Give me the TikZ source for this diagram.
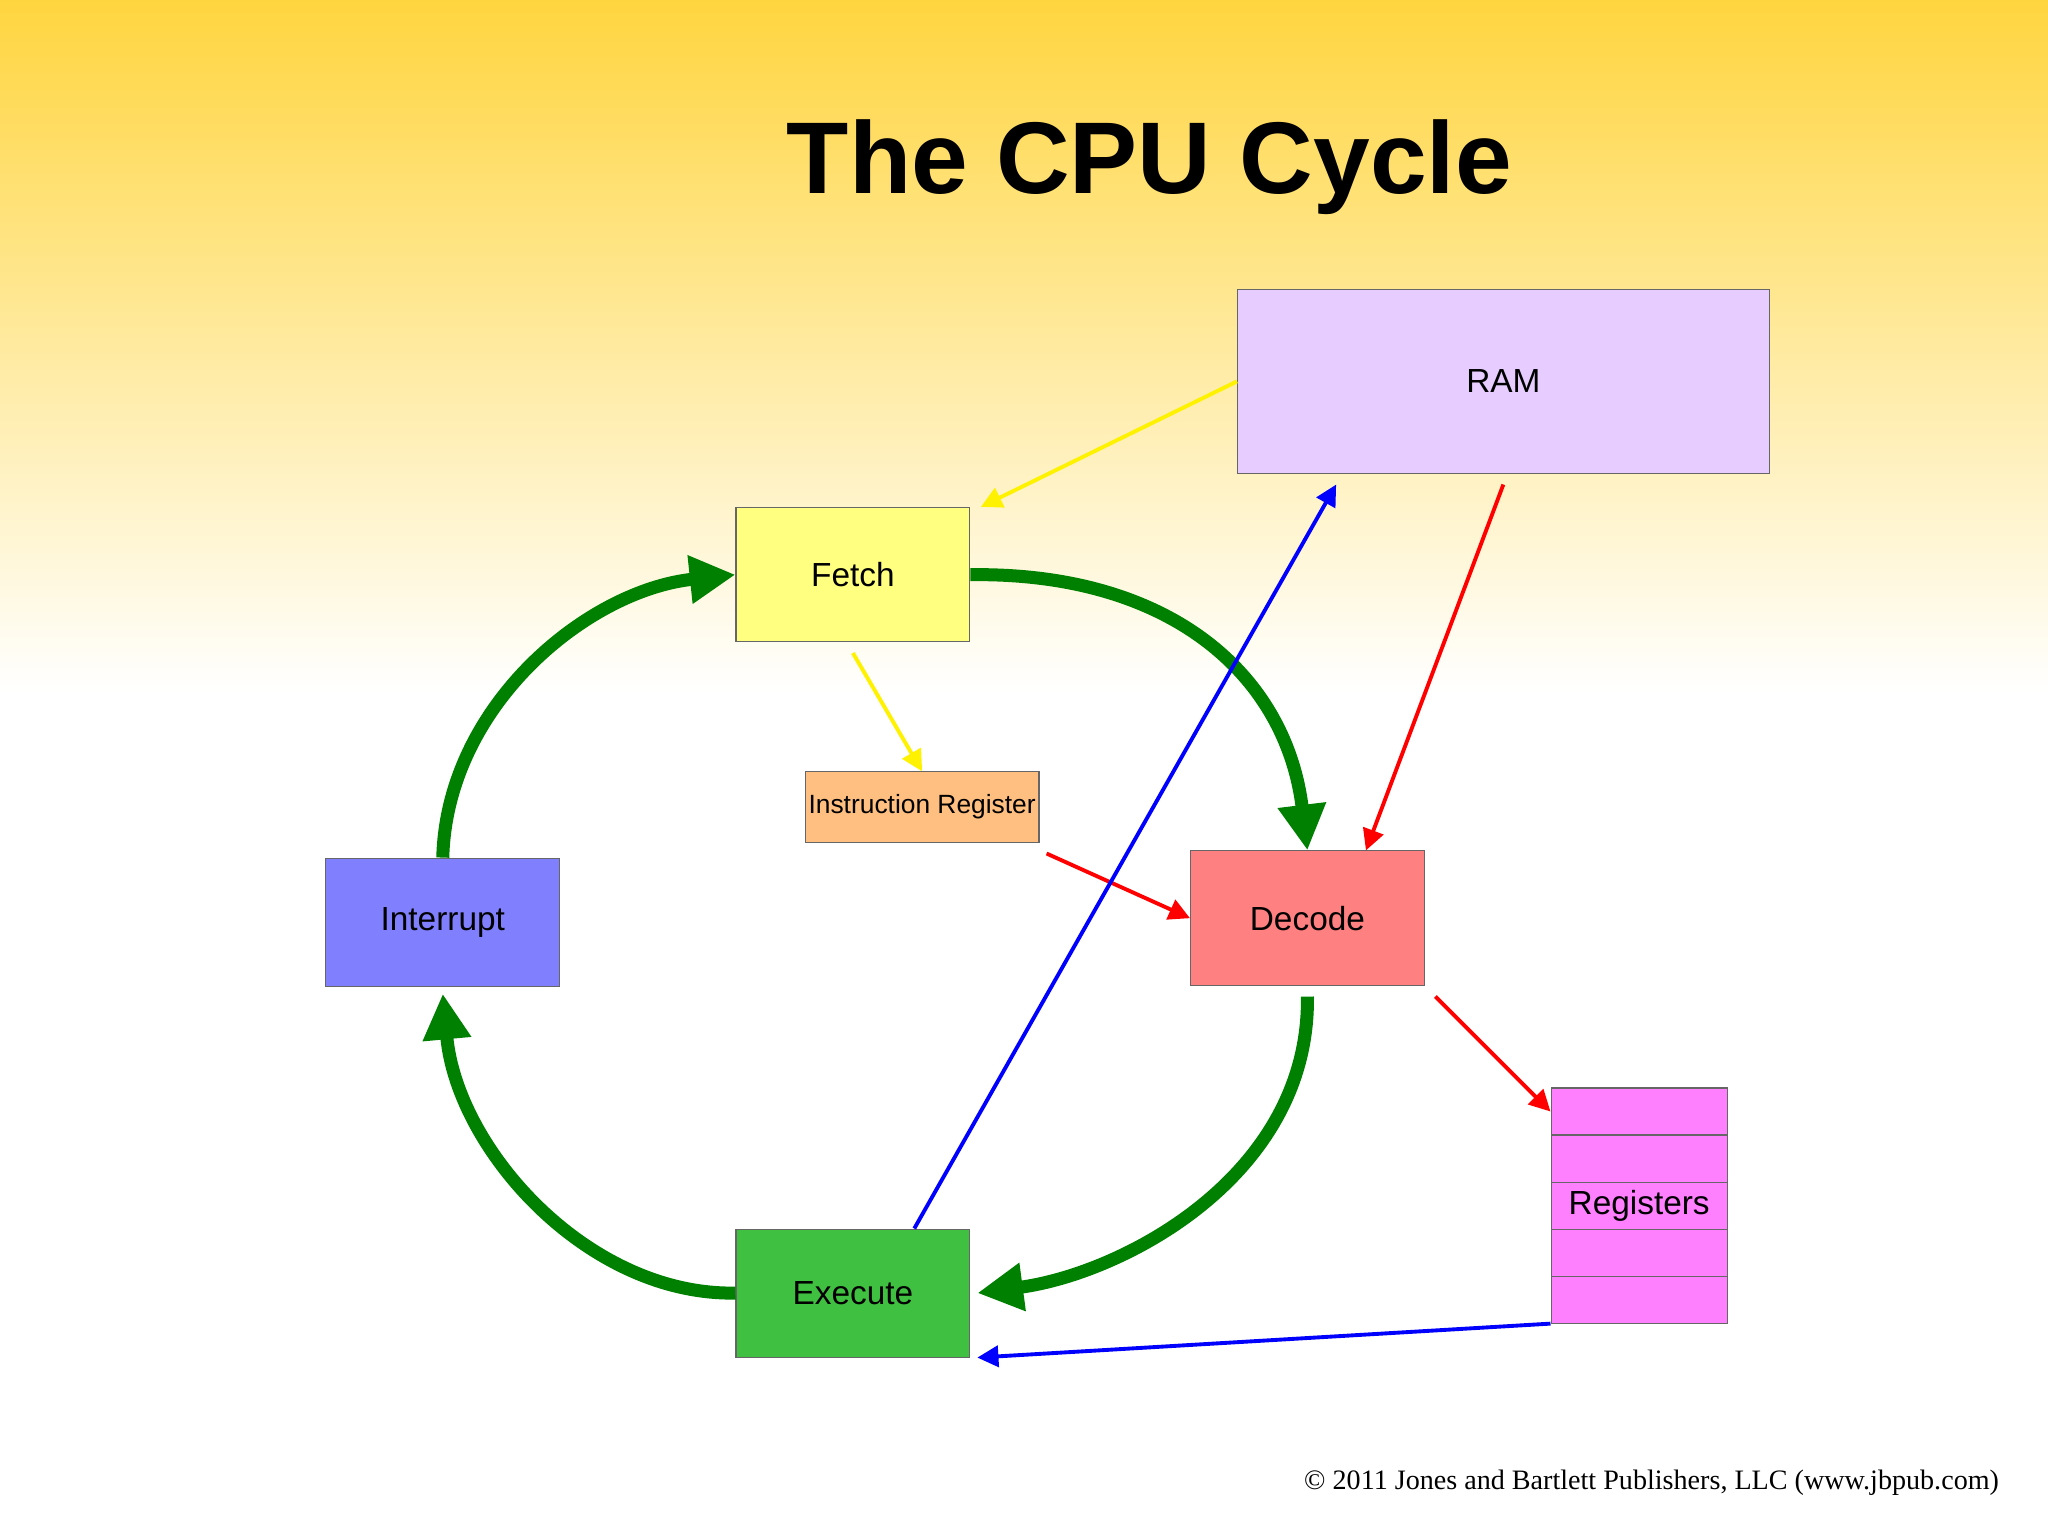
\documentclass[tikz,border=0pt]{standalone}
\usepackage{fontspec}
\setmainfont{Liberation Sans}
\newfontfamily\serifcopy{Liberation Serif}
\usetikzlibrary{arrows.meta}
\definecolor{bgtop}{HTML}{FFD53F}
\definecolor{fetchc}{HTML}{FFFF80}
\definecolor{irc}{HTML}{FFBF80}
\definecolor{intc}{HTML}{8080FF}
\definecolor{decc}{HTML}{FF8080}
\definecolor{exec}{HTML}{40C040}
\definecolor{regc}{HTML}{FF80FF}
\definecolor{ramc}{HTML}{E6CCFF}
\definecolor{cyc}{HTML}{008000}
\begin{document}
\begin{tikzpicture}[x=0.01306cm,y=-0.01306cm,
  box/.style={draw=black!60,line width=0.3pt,inner sep=0pt,font=\fontsize{9.5}{11}\selectfont},
  cycle/.style={draw=cyc,line width=3.7pt,-{Triangle[length=13pt,width=13pt]}},
  thin/.style={line width=1.1pt,-{Triangle[length=6pt,width=6pt]}}]
\useasboundingbox (0,0) rectangle (1568,1176);
\shade[top color=bgtop,bottom color=white] (0,0) rectangle (1568,530);
\fill[white] (0,529) rectangle (1568,1176);
\node[font=\bfseries\fontsize{29}{32}\selectfont] (title) at (880,128) {The CPU Cycle};
\node[box,fill=ramc,minimum width=407*0.01306cm,minimum height=141*0.01306cm] (ram) at (1151,292) {RAM};
\node[box,fill=fetchc,minimum width=179*0.01306cm,minimum height=103*0.01306cm] (fetch) at (653,440) {Fetch};
\node[box,fill=irc,minimum width=179*0.01306cm,minimum height=54*0.01306cm,font=\fontsize{7.5}{9}\selectfont] (ir) at (706,618) {Instruction Register};
\node[box,fill=intc,minimum width=179*0.01306cm,minimum height=98*0.01306cm] (int) at (339,706) {Interrupt};
\node[box,fill=decc,minimum width=179*0.01306cm,minimum height=103*0.01306cm] (dec) at (1001,703) {Decode};
\node[box,fill=exec,minimum width=179*0.01306cm,minimum height=98*0.01306cm] (exe) at (653,990) {Execute};
\foreach \i/\y/\t in {1/851/,2/887/,3/923/Registers,4/959/,5/995/}
  \node[box,fill=regc,minimum width=135*0.01306cm,minimum height=36*0.01306cm] (reg\i) at (1255,\y) {\t};
% main cycle
\draw[cycle] (fetch.east) .. controls (900,438) and (985,520) .. (dec.north);
\draw[cycle] ([yshift=-3pt]dec.south) .. controls (1003,900) and (860,975) .. ([xshift=2pt]exe.east);
\draw[cycle] (exe.west) .. controls (450,992) and (350,880) .. ([yshift=-2pt]int.north |- int.south);
\draw[cycle] (int.north) .. controls (342,540) and (450,452) .. (fetch.west);
% data flow
\draw[thin,draw=yellow,-{Triangle[length=6pt,width=6pt,fill=yellow]}] (ram.west) -- ([xshift=3pt]fetch.north east);
\draw[thin,draw=yellow] ([yshift=-3pt]fetch.south) -- (ir.north);
\draw[thin,draw=red] ([xshift=2pt,yshift=-3pt]ir.south east) -- (dec.west);
\draw[thin,draw=red] ([yshift=-3pt]ram.south) -- ([xshift=45pt*0.37]dec.north);
\draw[thin,draw=red] ([xshift=3pt,yshift=-3pt]dec.south east) -- (reg1.west);
\draw[thin,draw=blue] ([xshift=47*0.01306cm]exe.north) -- ([xshift=-128*0.01306cm,yshift=-3pt]ram.south);
\draw[thin,draw=blue] (reg5.south west) -- ([xshift=2pt]exe.south east);
\node[font=\serifcopy\fontsize{8}{10}\selectfont,anchor=east] (copy) at (1540,1135) {© 2011 Jones and Bartlett Publishers, LLC (www.jbpub.com)};
\end{tikzpicture}
\end{document}
